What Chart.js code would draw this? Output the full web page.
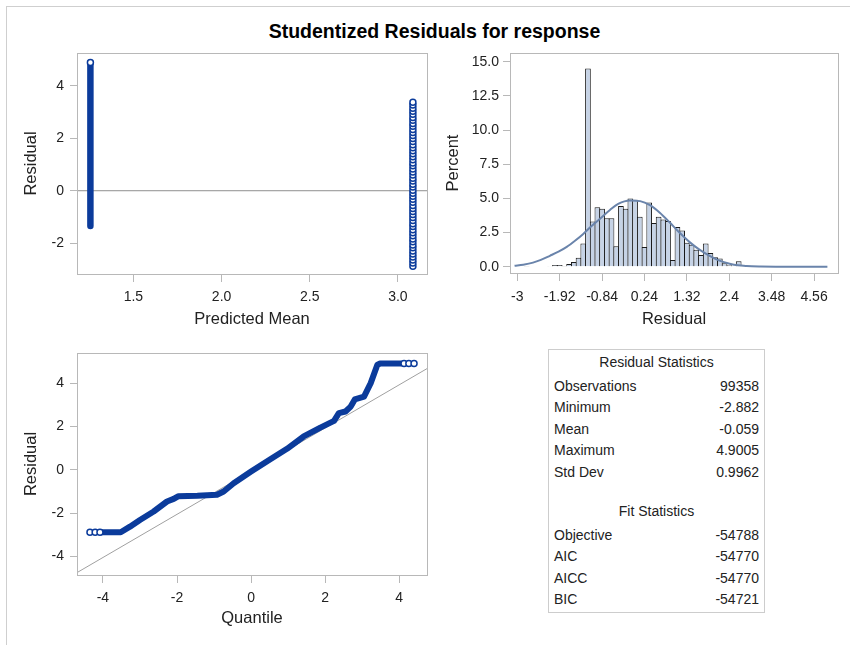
<!DOCTYPE html>
<html>
<head>
<meta charset="utf-8">
<title>Studentized Residuals for response</title>
<script src="https://cdn.jsdelivr.net/npm/chart.js@4.4.1/dist/chart.umd.min.js"></script>
<style>
  html, body { margin: 0; padding: 0; background: #fff; }
  #panel { position: relative; width: 850px; height: 645px; overflow: hidden; font-family: "Liberation Sans", Arial, sans-serif; color: #222; }
  #panel .edge { position: absolute; left: 6px; top: 6px; width: 900px; height: 700px; border-left: 1px solid #cfcfcf; border-top: 1px solid #cfcfcf; }
  #title { position: absolute; left: 0; top: 20px; width: 869px; text-align: center; font-size: 19.5px; font-weight: bold; color: #000; }
  canvas { position: absolute; }
  #stats { position: absolute; left: 548px; top: 349px; width: 215px; height: 262px; border: 1px solid #cdcdcd; font-size: 14px; }
  #stats div { position: absolute; left: 5px; right: 5px; height: 18px; line-height: 18px; white-space: nowrap; }
  #stats .head { text-align: center; }
  #stats .v { position: absolute; right: 0; top: 0; }
</style>
</head>
<body>
<div id="panel">
  <div class="edge"></div>
  <div id="title">Studentized Residuals for response</div>
  <canvas id="fitPlot" width="440" height="300" style="left:0;top:40px"></canvas>
  <canvas id="histPlot" width="410" height="300" style="left:440px;top:40px"></canvas>
  <canvas id="qqPlot" width="440" height="305" style="left:0;top:340px"></canvas>
  <div id="stats"></div>
</div>
<script>
// residual vs predicted mean
const predRange = [1.18, 3.165];
const residRange = [-3.18, 5.26];
const predTicks = [1.5, 2.0, 2.5, 3.0];
const residTicks = [-2, 0, 2, 4];
const lowPred = 1.256;
const lowGroupSpan = [-1.35, 4.9005];
const highPred = 3.085;
const highGroupResid = [
  -2.88, -2.76, -2.65, -2.53, -2.42, -2.30, -2.18, -2.07, -1.95, -1.84,
  -1.72, -1.60, -1.49, -1.37, -1.26, -1.14, -1.02, -0.91, -0.79, -0.68,
  -0.56, -0.44, -0.33, -0.21, -0.10, 0.02, 0.14, 0.25, 0.37, 0.48,
  0.60, 0.72, 0.83, 0.95, 1.06, 1.18, 1.30, 1.41, 1.53, 1.64,
  1.76, 1.88, 1.99, 2.11, 2.22, 2.34, 2.46, 2.57, 2.69, 2.80,
  2.92, 3.04, 3.15, 3.27, 3.38
];

// histogram of residuals (bin midpoints, percent)
const binMid = [-2.88, -2.76, -2.16, -2.04, -1.92, -1.80, -1.68, -1.56, -1.44, -1.32,
  -1.20, -1.08, -0.96, -0.84, -0.72, -0.60, -0.48, -0.36, -0.24, -0.12,
  0.00, 0.12, 0.24, 0.36, 0.48, 0.60, 0.72, 0.84, 0.96, 1.08,
  1.20, 1.32, 1.44, 1.56, 1.68, 1.80, 1.92, 2.04, 2.16, 2.28,
  2.40, 2.52, 2.64, 2.76];
const binPct = [0.03, 0.02, 0.05, 0.12, 0.12, 0.02, 0.2, 0.35, 0.65, 1.7,
  14.5, 3.3, 4.35, 4.25, 3.55, 3.55, 1.5, 4.45, 4.25, 5.0,
  4.9, 3.65, 1.45, 4.7, 3.2, 3.65, 3.45, 3.35, 0.5, 2.9,
  2.65, 1.75, 1.6, 1.25, 0.85, 1.7, 1.0, 0.7, 0.6, 0.25,
  0.1, 0.05, 0.4, 0.03];
const densityX = [-3.07, -2.85, -2.6, -2.4, -2.17, -1.95, -1.74, -1.53, -1.32, -1.1,
  -0.9, -0.64, -0.43, -0.13, 0.13, 0.38, 0.63, 0.88, 1.13, 1.39,
  1.64, 1.9, 2.15, 2.41, 2.62, 2.84, 3.2, 4.0, 4.9];
const densityPct = [0.07, 0.15, 0.3, 0.5, 0.8, 1.1, 1.45, 1.9, 2.4, 3.0,
  3.5, 4.15, 4.6, 4.85, 4.8, 4.5, 3.95, 3.25, 2.5, 1.8,
  1.25, 0.8, 0.45, 0.22, 0.1, 0.05, 0.02, 0.0, 0.0];
const histXRange = [-3.186, 5.17];
const histYRange = [-0.46, 15.64];
const histXTicks = [-3, -1.92, -0.84, 0.24, 1.32, 2.4, 3.48, 4.56];
const histYTicks = [0, 2.5, 5, 7.5, 10, 12.5, 15];

// normal quantile plot
const qqXRange = [-4.70, 4.75];
const qqYRange = [-4.85, 5.39];
const qqTicks = [-4, -2, 0, 2, 4];
const qqQuantile = [-4.05, -3.52, -3.27, -3.0, -2.63, -2.27, -2.09, -1.97, -1.45, -0.92,
  -0.74, -0.47, 0.0, 0.52, 0.97, 1.42, 1.87, 2.24, 2.37, 2.55,
  2.69, 2.80, 3.05, 3.23, 3.41, 3.48, 4.05];
const qqResid = [-2.88, -2.88, -2.62, -2.31, -1.92, -1.46, -1.34, -1.22, -1.20, -1.15,
  -1.0, -0.62, -0.08, 0.49, 0.97, 1.54, 1.95, 2.26, 2.62, 2.69,
  2.92, 3.25, 3.38, 4.0, 4.85, 4.90, 4.90];
const qqLowTail = [-4.35, -4.21, -4.08];
const qqHighTail = [4.13, 4.26, 4.40];
const residMin = -2.882;
const residMax = 4.9005;
const qqLineQ = [-4.70, 4.75];
const qqLineR = [-4.74, 4.67];

// summary tables
const residualStatLabels = ['Observations', 'Minimum', 'Mean', 'Maximum', 'Std Dev'];
const residualStatValues = ['99358', '-2.882', '-0.059', '4.9005', '0.9962'];
const fitStatLabels = ['Objective', 'AIC', 'AICC', 'BIC'];
const fitStatValues = ['-54788', '-54770', '-54770', '-54721'];

const FONT = '"Liberation Sans", Arial, sans-serif';
const INK = '#222';
const FRAME = '#b8b8b8';
const MARK = '#0b3b9b';

// box round every plot area
const framePlugin = {
  id: 'frame',
  afterDraw(chart) {
    const a = chart.chartArea, ctx = chart.ctx;
    ctx.save();
    ctx.strokeStyle = FRAME;
    ctx.lineWidth = 1;
    ctx.strokeRect(Math.round(a.left) + 0.5, Math.round(a.top) + 0.5,
      Math.round(a.right) - Math.round(a.left), Math.round(a.bottom) - Math.round(a.top));
    ctx.restore();
  }
};

function axis(o) {
  return {
    type: 'linear',
    min: o.range[0],
    max: o.range[1],
    offset: false,
    afterBuildTicks: s => { s.ticks = o.ticks.map(v => ({ value: v })); },
    afterFit: s => {
      if (s.isHorizontal()) s.height = o.size; else s.width = o.size;
      s.paddingLeft = s.paddingRight = s.paddingTop = s.paddingBottom = 0;
    },
    ticks: {
      autoSkip: false, maxRotation: 0, padding: o.pad, color: INK,
      font: { family: FONT, size: 14 },
      callback: o.fmt || (v => String(v))
    },
    grid: { drawOnChartArea: false, tickLength: o.tick, color: FRAME, offset: false },
    border: { color: FRAME },
    title: { display: true, text: o.title, color: INK, font: { family: FONT, size: 16.5 }, padding: o.titlePad }
  };
}

function options(padding, x, y) {
  return {
    responsive: false,
    animation: false,
    events: [],
    layout: { padding },
    plugins: { legend: { display: false }, tooltip: { enabled: false } },
    scales: { x, y }
  };
}

const ring = { pointStyle: 'circle', pointRadius: 3, pointBackgroundColor: '#fff', pointBorderColor: MARK, pointBorderWidth: 1.5 };

new Chart(document.getElementById('fitPlot'), {
  type: 'scatter',
  data: {
    datasets: [
      {
        type: 'line', order: 2,
        data: predRange.map(p => ({ x: p, y: 0 })),
        borderColor: '#8f8f8f', borderWidth: 1, pointRadius: 0
      },
      Object.assign({
        type: 'line', order: 1,
        data: lowGroupSpan.map(r => ({ x: lowPred, y: r })),
        borderColor: MARK, borderWidth: 6.5, borderCapStyle: 'round'
      }, ring, { pointRadius: [0, 3] }),
      Object.assign({
        order: 0,
        data: highGroupResid.map(r => ({ x: highPred, y: r }))
      }, ring)
    ]
  },
  options: options({ left: 0, top: 13, right: 13, bottom: 0 },
    axis({ range: predRange, ticks: predTicks, size: 66, pad: 7, tick: 8, title: 'Predicted Mean',
           titlePad: { top: 0, bottom: 11 }, fmt: v => v.toFixed(1) }),
    axis({ range: residRange, ticks: residTicks, size: 77, pad: 6, tick: 7, title: 'Residual',
           titlePad: { top: 22, bottom: 0 } })),
  plugins: [framePlugin]
});

new Chart(document.getElementById('histPlot'), {
  type: 'bar',
  data: {
    datasets: [
      {
        type: 'line', order: 0,
        data: densityX.map((x, i) => ({ x, y: densityPct[i] })),
        borderColor: '#6a84ab', borderWidth: 2, pointRadius: 0,
        cubicInterpolationMode: 'monotone'
      },
      {
        type: 'bar', order: 1,
        data: binMid.map((x, i) => ({ x, y: binPct[i] })),
        backgroundColor: '#c6d3e6', borderColor: '#1a1a1a', borderWidth: 1,
        barPercentage: 1.21, categoryPercentage: 1
      }
    ]
  },
  options: options({ left: 0, top: 13, right: 12, bottom: 0 },
    axis({ range: histXRange, ticks: histXTicks, size: 67, pad: 8, tick: 8, title: 'Residual',
           titlePad: { top: 0, bottom: 11 } }),
    axis({ range: histYRange, ticks: histYTicks, size: 70, pad: 4, tick: 7, title: 'Percent',
           titlePad: { top: 4, bottom: 0 }, fmt: v => v.toFixed(1) })),
  plugins: [framePlugin]
});

new Chart(document.getElementById('qqPlot'), {
  type: 'scatter',
  data: {
    datasets: [
      {
        type: 'line', order: 2,
        data: qqLineQ.map((q, i) => ({ x: q, y: qqLineR[i] })),
        borderColor: '#a0a0a0', borderWidth: 1, pointRadius: 0
      },
      {
        type: 'line', order: 1,
        data: qqQuantile.map((q, i) => ({ x: q, y: qqResid[i] })),
        borderColor: MARK, borderWidth: 6, borderCapStyle: 'round', borderJoinStyle: 'round',
        pointRadius: 0, tension: 0
      },
      Object.assign({
        order: 0,
        data: qqLowTail.map(q => ({ x: q, y: residMin }))
          .concat(qqHighTail.map(q => ({ x: q, y: residMax })))
      }, ring)
    ]
  },
  options: options({ left: 0, top: 13, right: 13, bottom: 0 },
    axis({ range: qqXRange, ticks: qqTicks, size: 70, pad: 7, tick: 8, title: 'Quantile',
           titlePad: { top: 0, bottom: 17 } }),
    axis({ range: qqYRange, ticks: qqTicks, size: 77, pad: 6, tick: 7, title: 'Residual',
           titlePad: { top: 22, bottom: 0 } })),
  plugins: [framePlugin]
});

// Residual Statistics / Fit Statistics box
const stats = document.getElementById('stats');
function addRow(top, label, value, cls) {
  const row = document.createElement('div');
  row.style.top = top + 'px';
  if (cls) row.className = cls;
  row.textContent = label;
  if (value !== undefined) {
    const v = document.createElement('span');
    v.className = 'v';
    v.textContent = value;
    row.appendChild(v);
  }
  stats.appendChild(row);
}
addRow(3, 'Residual Statistics', undefined, 'head');
residualStatLabels.forEach((l, i) => addRow(27 + i * 21.4, l, residualStatValues[i]));
addRow(152, 'Fit Statistics', undefined, 'head');
fitStatLabels.forEach((l, i) => addRow(176 + i * 21.4, l, fitStatValues[i]));
</script>
</body>
</html>
